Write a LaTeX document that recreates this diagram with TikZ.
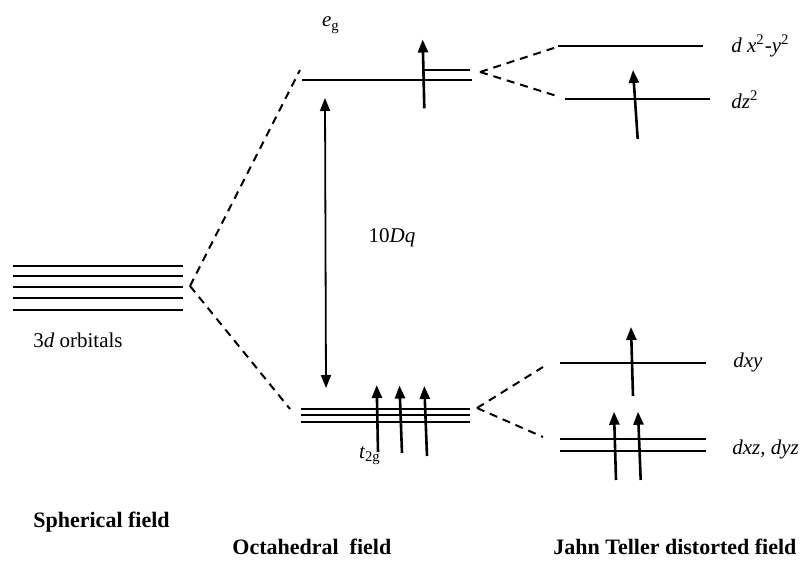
\documentclass[tikz,border=0pt]{standalone}
\usepackage{fontspec}
\setmainfont{Liberation Serif}
\usetikzlibrary{arrows.meta}
\begin{document}
\begin{tikzpicture}[x=0.5pt,y=-0.5pt,
  level/.style={line width=1pt},
  split/.style={line width=1pt,dash pattern=on 4pt off 3pt},
  spin/.style={line width=1.3pt,-{Triangle[length=6.5pt,width=5pt]}},
  gap/.style={line width=0.9pt,{Triangle[length=6.5pt,width=5pt]}-{Triangle[length=6.5pt,width=5pt]}},
  lab/.style={font=\fontsize{10.5}{12}\selectfont\itshape,inner sep=0pt},
  title/.style={font=\fontsize{11}{13}\selectfont\bfseries,inner sep=0pt,anchor=west}]
\useasboundingbox (0,0) rectangle (800,567);

% spherical field: five degenerate 3d levels
\foreach \y [count=\i] in {265.7,276.3,286.7,297.7,309.7}{
  \coordinate (s\i a) at (13,\y);
  \coordinate (s\i b) at (183,\y);
  \draw[level] (s\i a) -- (s\i b);
}
\coordinate (sj) at (190,286);

% octahedral field: e_g and t_2g sets
\coordinate (egA) at (302,80);   \coordinate (egB) at (472,80);
\coordinate (egC) at (423,70);   \coordinate (egD) at (470,70);
\draw[level] (egA) -- (egB);
\draw[level] (egC) -- (egD);
\foreach \y [count=\i] in {409.5,414.7,422}{
  \coordinate (t\i a) at (301,\y);
  \coordinate (t\i b) at (470,\y);
  \draw[level] (t\i a) -- (t\i b);
}
\coordinate (egE) at (300,70);
\coordinate (t2E) at (290,409);
\draw[split] (sj) -- (egE);
\draw[split] (sj) -- (t2E);

% splitting gap
\coordinate (gT) at (325,98);
\coordinate (gB) at (326,388);
\draw[gap] (gT) -- (gB);

% Jahn-Teller field: upper pair
\coordinate (ujn) at (480,72);
\coordinate (xyA) at (558,46);  \coordinate (xyB) at (703,46);
\coordinate (zA) at (565,99);   \coordinate (zB) at (710,99);
\draw[level] (xyA) -- (xyB);
\draw[level] (zA) -- (zB);
\coordinate (ue1) at (557,47);
\coordinate (ue2) at (560,97);
\draw[split] (ujn) -- (ue1);
\draw[split] (ujn) -- (ue2);

% Jahn-Teller field: lower set
\coordinate (ljn) at (477,408);
\coordinate (dxyA) at (560,362.7); \coordinate (dxyB) at (706,362.7);
\coordinate (d1A) at (560,439);    \coordinate (d1B) at (706,439);
\coordinate (d2A) at (560,450.7);  \coordinate (d2B) at (706,450.7);
\draw[level] (dxyA) -- (dxyB);
\draw[level] (d1A) -- (d1B);
\draw[level] (d2A) -- (d2B);
\coordinate (le1) at (543,367);
\coordinate (le2) at (543,437);
\draw[split] (ljn) -- (le1);
\draw[split] (ljn) -- (le2);

% electrons (spin up)
\coordinate (a1s) at (424.3,108.3); \coordinate (a1e) at (422.7,39.5);
\coordinate (a2s) at (378,452);     \coordinate (a2e) at (376.7,385);
\coordinate (a3s) at (402,453);     \coordinate (a3e) at (399.5,385.5);
\coordinate (a4s) at (427,456);     \coordinate (a4e) at (424.3,386);
\coordinate (a5s) at (637.7,139);   \coordinate (a5e) at (633,70);
\coordinate (a6s) at (633,396);     \coordinate (a6e) at (631,327);
\coordinate (a7s) at (616,480);     \coordinate (a7e) at (614,411.7);
\coordinate (a8s) at (640.7,480);   \coordinate (a8e) at (638,411.7);
\foreach \i in {1,...,8}{ \draw[spin] (a\i s) -- (a\i e); }

% labels
\node[lab] (leg) at (331,25) {e\textsubscript{\upshape g}};
\node[lab] (lt2g) at (370,456) {t\textsubscript{\upshape 2g}};
\node[lab] (ldq) at (392,238) {{\upshape 10}Dq};
\node[lab] (l3d) at (78,340) {{\upshape 3}d{\upshape\ orbitals}};
\node[lab,anchor=west] (lx2) at (731,46) {d x\textsuperscript{\upshape 2}-y\textsuperscript{\upshape 2}};
\node[lab,anchor=west] (lz2) at (731,100) {dz\textsuperscript{\upshape 2}};
\node[lab,anchor=west] (lxy) at (733,362) {dxy};
\node[lab,anchor=west] (lxz) at (732,449) {dxz, dyz};

\node[title] (tsph) at (33,522) {Spherical field};
\node[title] (toct) at (232,547) {Octahedral\ \ field};
\node[title] (tjt) at (553,547) {Jahn Teller distorted field};
\end{tikzpicture}
\end{document}
